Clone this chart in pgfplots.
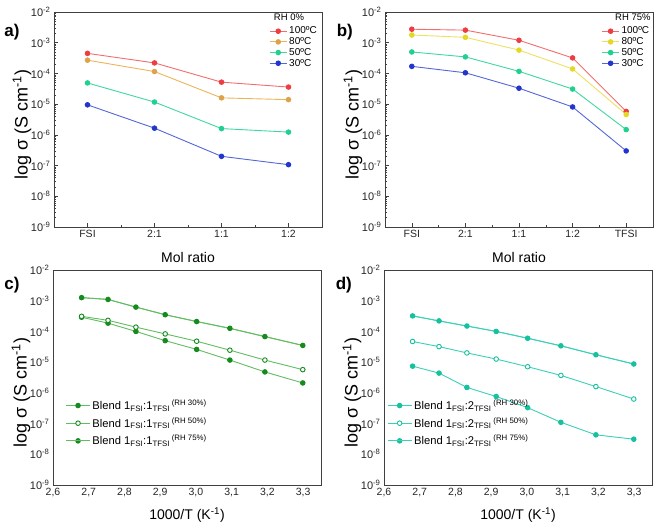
\documentclass[border=0pt]{standalone}
\usepackage{fontspec}
\setmainfont{Liberation Sans}
\usepackage{pgfplots}
\pgfplotsset{compat=1.18}
\definecolor{cRed}{HTML}{EF3B42}
\definecolor{cRedL}{HTML}{F26D6D}
\definecolor{cOra}{HTML}{DDA24A}
\definecolor{cOraL}{HTML}{EBB55A}
\definecolor{cGrn}{HTML}{1FD08E}
\definecolor{cGrnL}{HTML}{3FD8A0}
\definecolor{cBlu}{HTML}{2335CC}
\definecolor{cBluL}{HTML}{5566D8}
\definecolor{cYel}{HTML}{E6D626}
\definecolor{cYelL}{HTML}{EEE060}
\definecolor{dGrn}{HTML}{168A1E}
\definecolor{dGrnL}{HTML}{62BC62}
\definecolor{cTeal}{HTML}{17C09E}
\definecolor{cTealL}{HTML}{3CD0B6}
\definecolor{axgray}{HTML}{404040}
\tikzset{myser/.style n args={2}{#2, line width=0.9pt, mark=*, mark size=2.3pt, mark options={solid, draw=#1, fill=#1}}}
\pgfplotsset{
  legimg/.style={legend image code/.code={\draw[mark repeat=2,mark phase=2,##1] plot coordinates {(0pt,0pt)(12pt,0pt)(24pt,0pt)};}},
  crossG/.style={legend image code/.code={\draw[mark repeat=2,mark phase=2,##1] plot coordinates {(0pt,0pt)(12pt,0pt)(24pt,0pt)}; \draw[dGrnL, line width=0.9pt] (7pt,0pt)--(17pt,0pt);}},
  crossT/.style={legend image code/.code={\draw[mark repeat=2,mark phase=2,##1] plot coordinates {(0pt,0pt)(12pt,0pt)(24pt,0pt)}; \draw[cTealL, line width=0.9pt] (7pt,0pt)--(17pt,0pt);}},
  myminor/.style={minor ytick={2e-9,3e-9,4e-9,5e-9,6e-9,7e-9,8e-9,9e-9,2e-8,3e-8,4e-8,5e-8,6e-8,7e-8,8e-8,9e-8,2e-7,3e-7,4e-7,5e-7,6e-7,7e-7,8e-7,9e-7,2e-6,3e-6,4e-6,5e-6,6e-6,7e-6,8e-6,9e-6,2e-5,3e-5,4e-5,5e-5,6e-5,7e-5,8e-5,9e-5,2e-4,3e-4,4e-4,5e-4,6e-4,7e-4,8e-4,9e-4,2e-3,3e-3,4e-3,5e-3,6e-3,7e-3,8e-3,9e-3}},
}
\begin{document}
\begin{tikzpicture}
\useasboundingbox (0pt,0pt) rectangle (657pt,527pt);
% ---------------- a)
\begin{axis}[scale only axis, width=268pt, height=215pt,
  ymode=log, ymin=1e-9, ymax=1e-2,
  ytick={1e-9,1e-8,1e-7,1e-6,1e-5,1e-4,1e-3,1e-2}, myminor,
  yticklabels={10\textsuperscript{-9},10\textsuperscript{-8},10\textsuperscript{-7},10\textsuperscript{-6},10\textsuperscript{-5},10\textsuperscript{-4},10\textsuperscript{-3},10\textsuperscript{-2}},
  axis line style={axgray, line width=0.8pt},
  tick style={axgray, line width=0.6pt},
  major tick length=4pt, minor tick length=2pt, tick pos=left,
  yticklabel style={font=\fontsize{11}{13}\selectfont, text=black!85},
  xticklabel style={font=\fontsize{10.5}{12}\selectfont, text=black!85},
  ylabel={log σ (S cm\textsuperscript{-1})},
  ylabel style={font=\fontsize{18}{20}\selectfont, at={(axis description cs:-0.119,0.477)}, anchor=center},
  xlabel style={font=\fontsize{14}{16}\selectfont, at={(axis description cs:0.5,-0.14)}, anchor=center},
  clip=false,
  at={(54pt,300pt)}, anchor=south west,
  xmin=-0.5, xmax=3.5, xtick={0,1,2,3}, xticklabels={FSI,2:1,1:1,1:2},
  minor xtick={0.5,1.5,2.5}, xlabel={Mol ratio},
  legend style={draw=none, fill=none, font=\fontsize{10}{11}\selectfont, row sep=-1.8pt, at={(1.0,0.95)}, anchor=north east},
  legend cell align=left]
\addplot[myser={cRed}{cRedL}] coordinates {(0,4.5e-4)(1,2.2e-4)(2,5.2e-5)(3,3.6e-5)};
\addlegendentry{100ºC}
\addplot[myser={cOra}{cOraL}] coordinates {(0,2.7e-4)(1,1.15e-4)(2,1.6e-5)(3,1.4e-5)};
\addlegendentry{80ºC}
\addplot[myser={cGrn}{cGrnL}] coordinates {(0,4.9e-5)(1,1.17e-5)(2,1.6e-6)(3,1.23e-6)};
\addlegendentry{50ºC}
\addplot[myser={cBlu}{cBluL}] coordinates {(0,9.5e-6)(1,1.65e-6)(2,2.0e-7)(3,1.07e-7)};
\addlegendentry{30ºC}
\node[font=\fontsize{9.5}{11}\selectfont] at (rel axis cs:0.877,0.975) {RH 0\%};
\node[font=\bfseries\fontsize{17}{19}\selectfont] at (rel axis cs:-0.157,0.907) {a)};
\end{axis}
% ---------------- b)
\begin{axis}[scale only axis, width=268pt, height=215pt,
  ymode=log, ymin=1e-9, ymax=1e-2,
  ytick={1e-9,1e-8,1e-7,1e-6,1e-5,1e-4,1e-3,1e-2}, myminor,
  yticklabels={10\textsuperscript{-9},10\textsuperscript{-8},10\textsuperscript{-7},10\textsuperscript{-6},10\textsuperscript{-5},10\textsuperscript{-4},10\textsuperscript{-3},10\textsuperscript{-2}},
  axis line style={axgray, line width=0.8pt},
  tick style={axgray, line width=0.6pt},
  major tick length=4pt, minor tick length=2pt, tick pos=left,
  yticklabel style={font=\fontsize{11}{13}\selectfont, text=black!85},
  xticklabel style={font=\fontsize{10.5}{12}\selectfont, text=black!85},
  ylabel={log σ (S cm\textsuperscript{-1})},
  ylabel style={font=\fontsize{18}{20}\selectfont, at={(axis description cs:-0.119,0.477)}, anchor=center},
  xlabel style={font=\fontsize{14}{16}\selectfont, at={(axis description cs:0.5,-0.14)}, anchor=center},
  clip=false,
  at={(385pt,300pt)}, anchor=south west,
  xmin=-0.5, xmax=4.5, xtick={0,1,2,3,4}, xticklabels={FSI,2:1,1:1,1:2,TFSI},
  minor xtick={0.5,1.5,2.5,3.5}, xlabel={Mol ratio},
  legend style={draw=none, fill=none, font=\fontsize{10}{11}\selectfont, row sep=-1.8pt, at={(1.005,0.95)}, anchor=north east},
  legend cell align=left]
\addplot[myser={cRed}{cRedL}] coordinates {(0,2.75e-3)(1,2.57e-3)(2,1.2e-3)(3,3.2e-4)(4,5.8e-6)};
\addlegendentry{100ºC}
\addplot[myser={cYel}{cYelL}] coordinates {(0,1.78e-3)(1,1.5e-3)(2,5.75e-4)(3,1.4e-4)(4,4.6e-6)};
\addlegendentry{80ºC}
\addplot[myser={cGrn}{cGrnL}] coordinates {(0,5.0e-4)(1,3.45e-4)(2,1.17e-4)(3,3.1e-5)(4,1.48e-6)};
\addlegendentry{50ºC}
\addplot[myser={cBlu}{cBluL}] coordinates {(0,1.7e-4)(1,1.05e-4)(2,3.3e-5)(3,8.1e-6)(4,3.0e-7)};
\addlegendentry{30ºC}
\node[font=\fontsize{9.5}{11}\selectfont] at (rel axis cs:0.925,0.975) {RH 75\%};
\node[font=\bfseries\fontsize{17}{19}\selectfont] at (rel axis cs:-0.15,0.907) {b)};
\end{axis}
% ---------------- c)
\begin{axis}[scale only axis, width=268pt, height=215pt,
  ymode=log, ymin=1e-9, ymax=1e-2,
  ytick={1e-9,1e-8,1e-7,1e-6,1e-5,1e-4,1e-3,1e-2},
  yticklabels={10\textsuperscript{-9},10\textsuperscript{-8},10\textsuperscript{-7},10\textsuperscript{-6},10\textsuperscript{-5},10\textsuperscript{-4},10\textsuperscript{-3},10\textsuperscript{-2}},
  axis line style={axgray, line width=0.8pt},
  tick style={axgray, line width=0.6pt},
  major tick length=0pt, minor tick length=0pt, tick pos=left,
  yticklabel style={font=\fontsize{11}{13}\selectfont, text=black!85},
  xticklabel style={font=\fontsize{10.5}{12}\selectfont, text=black!85},
  ylabel={log σ (S cm\textsuperscript{-1})},
  ylabel style={font=\fontsize{18}{20}\selectfont, at={(axis description cs:-0.119,0.43)}, anchor=center},
  xlabel style={font=\fontsize{14}{16}\selectfont, at={(axis description cs:0.5,-0.14)}, anchor=center},
  clip=false,
  at={(53pt,42pt)}, anchor=south west,
  xmin=2.6, xmax=3.35, xtick={2.6,2.7,2.8,2.9,3.0,3.1,3.2,3.3},
  xticklabels={2{,}6,2{,}7,2{,}8,2{,}9,3{,}0,3{,}1,3{,}2,3{,}3},
  xlabel={1000/T (K\textsuperscript{-1})},
  legend style={draw=none, fill=none, font=\fontsize{11.2}{13}\selectfont, row sep=2.5pt, at={(0.035,0.415)}, anchor=north west},
  legend cell align=left, legimg]
\addplot[myser={dGrn}{dGrnL}] coordinates {(2.680,2.9e-4)(2.754,1.86e-4)(2.832,1.0e-4)(2.914,5.0e-5)(3.002,2.6e-5)(3.095,1.17e-5)(3.193,4.8e-6)(3.299,2.1e-6)};
\addlegendentry{Blend 1\textsubscript{FSI}:1\textsubscript{TFSI}\,\textsuperscript{(RH 30\%)}}
\addplot[dGrnL, line width=0.9pt, mark=*, mark size=2.3pt, mark options={solid, draw=dGrn, fill=white}] coordinates {(2.680,3.1e-4)(2.754,2.3e-4)(2.832,1.38e-4)(2.914,8.3e-5)(3.002,4.8e-5)(3.095,2.45e-5)(3.193,1.17e-5)(3.299,5.7e-6)};
\addlegendentry{Blend 1\textsubscript{FSI}:1\textsubscript{TFSI}\,\textsuperscript{(RH 50\%)}}
\addplot[myser={dGrn}{dGrnL}, crossG] coordinates {(2.680,1.26e-3)(2.754,1.1e-3)(2.832,6.2e-4)(2.914,3.5e-4)(3.002,2.1e-4)(3.095,1.26e-4)(3.193,6.8e-5)(3.299,3.5e-5)};
\addlegendentry{Blend 1\textsubscript{FSI}:1\textsubscript{TFSI}\,\textsuperscript{(RH 75\%)}}
\addplot[dGrnL, line width=0.9pt, forget plot] coordinates {(2.680,1.26e-3)(2.754,1.1e-3)(2.832,6.2e-4)(2.914,3.5e-4)(3.002,2.1e-4)(3.095,1.26e-4)(3.193,6.8e-5)(3.299,3.5e-5)};
\node[font=\bfseries\fontsize{17}{19}\selectfont] at (rel axis cs:-0.153,0.93) {c)};
\end{axis}
% ---------------- d)
\begin{axis}[scale only axis, width=268pt, height=215pt,
  ymode=log, ymin=1e-9, ymax=1e-2,
  ytick={1e-9,1e-8,1e-7,1e-6,1e-5,1e-4,1e-3,1e-2},
  yticklabels={10\textsuperscript{-9},10\textsuperscript{-8},10\textsuperscript{-7},10\textsuperscript{-6},10\textsuperscript{-5},10\textsuperscript{-4},10\textsuperscript{-3},10\textsuperscript{-2}},
  axis line style={axgray, line width=0.8pt},
  tick style={axgray, line width=0.6pt},
  major tick length=0pt, minor tick length=0pt, tick pos=left,
  yticklabel style={font=\fontsize{11}{13}\selectfont, text=black!85},
  xticklabel style={font=\fontsize{10.5}{12}\selectfont, text=black!85},
  ylabel={log σ (S cm\textsuperscript{-1})},
  ylabel style={font=\fontsize{18}{20}\selectfont, at={(axis description cs:-0.119,0.43)}, anchor=center},
  xlabel style={font=\fontsize{14}{16}\selectfont, at={(axis description cs:0.5,-0.14)}, anchor=center},
  clip=false,
  at={(384pt,42pt)}, anchor=south west,
  xmin=2.6, xmax=3.35, xtick={2.6,2.7,2.8,2.9,3.0,3.1,3.2,3.3},
  xticklabels={2{,}6,2{,}7,2{,}8,2{,}9,3{,}0,3{,}1,3{,}2,3{,}3},
  xlabel={1000/T (K\textsuperscript{-1})},
  legend style={draw=none, fill=none, font=\fontsize{11.2}{13}\selectfont, row sep=2.5pt, at={(0.0,0.415)}, anchor=north west},
  legend cell align=left, legimg]
\addplot[myser={cTeal}{cTealL}] coordinates {(2.680,7.4e-6)(2.754,4.4e-6)(2.832,1.5e-6)(2.914,7.6e-7)(3.002,3.3e-7)(3.095,1.1e-7)(3.193,4.3e-8)(3.299,3.1e-8)};
\addlegendentry{Blend 1\textsubscript{FSI}:2\textsubscript{TFSI}\,\textsuperscript{(RH 30\%)}}
\addplot[cTealL, line width=0.9pt, mark=*, mark size=2.3pt, mark options={solid, draw=cTeal, fill=white}] coordinates {(2.680,4.7e-5)(2.754,3.2e-5)(2.832,2.0e-5)(2.914,1.26e-5)(3.002,7.1e-6)(3.095,3.7e-6)(3.193,1.6e-6)(3.299,6.3e-7)};
\addlegendentry{Blend 1\textsubscript{FSI}:2\textsubscript{TFSI}\,\textsuperscript{(RH 50\%)}}
\addplot[myser={cTeal}{cTealL}, crossT] coordinates {(2.680,3.2e-4)(2.754,2.2e-4)(2.832,1.5e-4)(2.914,1.0e-4)(3.002,6.0e-5)(3.095,3.4e-5)(3.193,1.74e-5)(3.299,8.7e-6)};
\addlegendentry{Blend 1\textsubscript{FSI}:2\textsubscript{TFSI}\,\textsuperscript{(RH 75\%)}}
\addplot[cTealL, line width=0.9pt, forget plot] coordinates {(2.680,3.2e-4)(2.754,2.2e-4)(2.832,1.5e-4)(2.914,1.0e-4)(3.002,6.0e-5)(3.095,3.4e-5)(3.193,1.74e-5)(3.299,8.7e-6)};
\node[font=\bfseries\fontsize{17}{19}\selectfont] at (rel axis cs:-0.15,0.93) {d)};
\end{axis}
\end{tikzpicture}
\end{document}
